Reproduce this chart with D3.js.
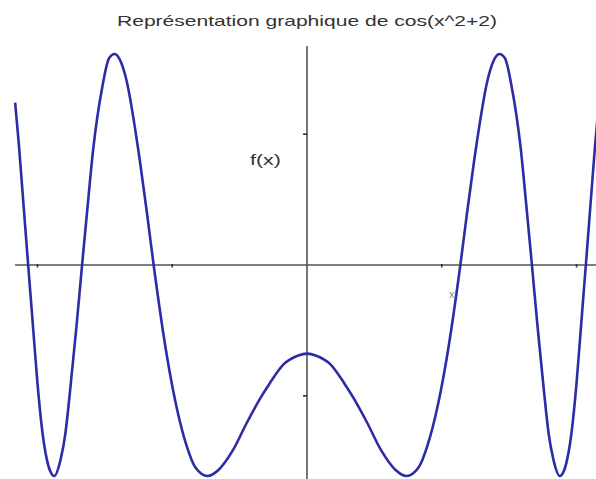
<!DOCTYPE html>
<html>
<head>
<meta charset="utf-8">
<script src="https://cdn.jsdelivr.net/npm/d3@7"></script>
<style>
  html, body { margin: 0; padding: 0; background: #fff; }
  svg { display: block; }
</style>
</head>
<body>
<svg id="chart" width="596" height="479"></svg>
<script>
// Sampled points of f(x) = cos(x^2 + 2) on [-pi, pi]
const xValues = [-3.14, -3.10, -3.07, -3.00, -2.95, -2.90, -2.85, -2.80, -2.76, -2.72, -2.65, -2.60, -2.55,
                 -2.48, -2.42, -2.36, -2.30, -2.20, -2.13, -2.07, -2.00, -1.95, -1.80, -1.72, -1.65,
                 -1.50, -1.40, -1.30, -1.20, -1.07, -0.95, -0.80, -0.65, -0.50, -0.40, -0.25, -0.10, 0.00,
                 0.10, 0.25, 0.40, 0.50, 0.65, 0.80, 0.95, 1.07, 1.20, 1.30, 1.40, 1.50,
                 1.65, 1.72, 1.80, 1.95, 2.00, 2.07, 2.13, 2.20, 2.30, 2.36, 2.42, 2.48,
                 2.55, 2.60, 2.65, 2.72, 2.76, 2.80, 2.85, 2.90, 2.95, 3.00, 3.07, 3.10, 3.14];
const yValues = [0.77, 0.57, 0.40, 0.00, -0.28, -0.56, -0.78, -0.92, -0.98, -1.00, -0.92, -0.80, -0.60,
                 -0.29, 0.00, 0.28, 0.55, 0.85, 0.98, 1.00, 0.96, 0.89, 0.50, 0.24, 0.00,
                 -0.45, -0.68, -0.85, -0.96, -1.00, -0.97, -0.88, -0.75, -0.63, -0.56, -0.47, -0.43, -0.42,
                 -0.43, -0.47, -0.56, -0.63, -0.75, -0.88, -0.97, -1.00, -0.96, -0.85, -0.68, -0.45,
                 0.00, 0.24, 0.50, 0.89, 0.96, 1.00, 0.98, 0.85, 0.55, 0.28, 0.00, -0.29,
                 -0.60, -0.80, -0.92, -1.00, -0.98, -0.92, -0.78, -0.56, -0.28, 0.00, 0.40, 0.57, 0.77];
const xTicks = [-2.9, -1.45, 1.45, 2.9];
const yTicks = [-0.62, 0.62];
const titleText = "Représentation graphique de cos(x^2+2)";
const yLabel = "f(x)";
const xLabel = "x";

const svg = d3.select("#chart");

const x = d3.scaleLinear().domain([-Math.PI, Math.PI]).range([15, 599]);
const y = d3.scaleLinear().domain([-1, 1]).range([476, 54]);

const axisColor = "#555";

// Horizontal axis through y = 0
svg.append("line")
  .attr("x1", 15).attr("x2", 596)
  .attr("y1", y(0)).attr("y2", y(0))
  .attr("stroke", axisColor).attr("stroke-width", 1.6);

// Vertical axis through x = 0
svg.append("line")
  .attr("x1", x(0)).attr("x2", x(0))
  .attr("y1", 46).attr("y2", 479)
  .attr("stroke", axisColor).attr("stroke-width", 1.6);

// Tick marks
svg.selectAll(".xtick").data(xTicks).enter().append("line")
  .attr("class", "xtick")
  .attr("x1", d => x(d)).attr("x2", d => x(d))
  .attr("y1", y(0) - 1).attr("y2", y(0) + 2.5)
  .attr("stroke", "#333").attr("stroke-width", 1.6);

svg.selectAll(".ytick").data(yTicks).enter().append("line")
  .attr("class", "ytick")
  .attr("x1", x(0) - 4).attr("x2", x(0))
  .attr("y1", d => y(d)).attr("y2", d => y(d))
  .attr("stroke", "#333").attr("stroke-width", 1.6);

// Curve through the sampled points
const pts = xValues.map((v, i) => [v, yValues[i]]);
const path = d3.line()
  .x(d => x(d[0]))
  .y(d => y(d[1]))
  .curve(d3.curveMonotoneX);

svg.append("path")
  .datum(pts)
  .attr("d", path)
  .attr("fill", "none")
  .attr("stroke", "#2c2ca6")
  .attr("stroke-width", 2.6)
  .attr("stroke-linejoin", "round");

// Title
svg.append("text")
  .attr("x", 307).attr("y", 26)
  .attr("text-anchor", "middle")
  .attr("font-family", "Liberation Sans, Arial, sans-serif")
  .attr("font-size", 15)
  .attr("fill", "#333")
  .attr("textLength", 380)
  .attr("lengthAdjust", "spacingAndGlyphs")
  .text(titleText);

// Axis labels
svg.append("text")
  .attr("x", 250).attr("y", 165)
  .attr("font-family", "Liberation Sans, Arial, sans-serif")
  .attr("font-size", 15)
  .attr("fill", "#333")
  .attr("textLength", 31)
  .attr("lengthAdjust", "spacingAndGlyphs")
  .text(yLabel);

svg.append("text")
  .attr("x", 449).attr("y", 298)
  .attr("font-family", "Liberation Sans, Arial, sans-serif")
  .attr("font-size", 11)
  .attr("fill", "#888")
  .text(xLabel);
</script>
</body>
</html>
